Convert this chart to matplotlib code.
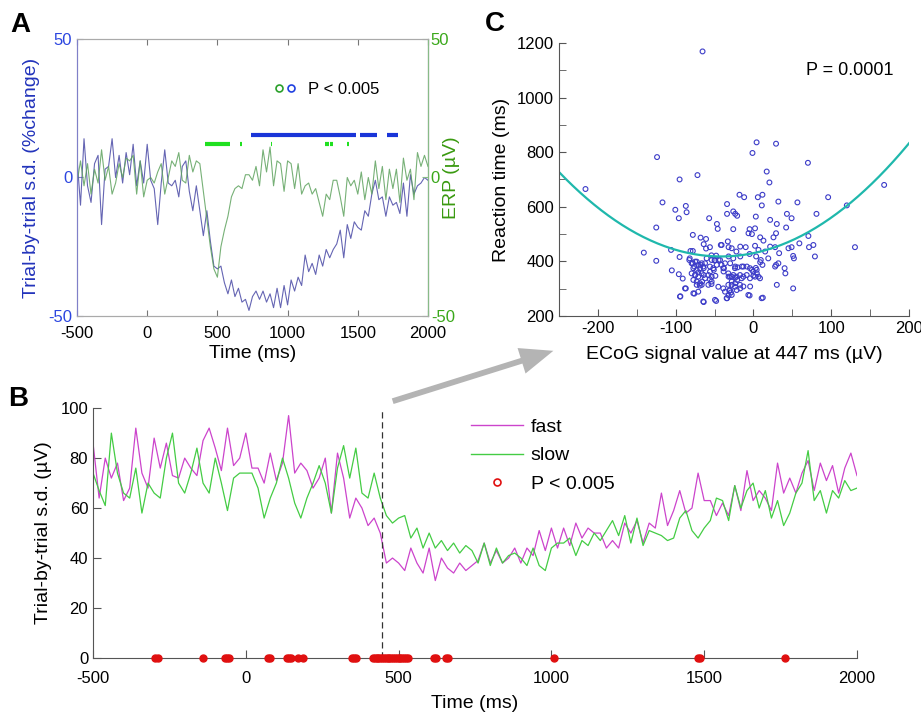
import matplotlib
matplotlib.use('Agg')
import matplotlib.pyplot as plt
from matplotlib.lines import Line2D
from matplotlib.legend_handler import HandlerTuple
import numpy as np

plt.rcParams['font.family'] = ['Liberation Sans', 'DejaVu Sans']
plt.rcParams['axes.unicode_minus'] = False

# ---------------- data ----------------
# Panel A: 25 ms samples from -500 to 2000 ms
t_a = np.arange(-500, 2001, 25)
sd_change = [7, -10, 14, -3, -9, 5, 8, -17, 3, 4,
             14, 0, 8, -2, 9, 1, 12, -3, 6, -2,
             12, -1, -4, -17, -2, 10, -2, -3, -1, -7,
             4, 6, -5, -12, -3, -12, -21, -12, -23, -32,
             -33, -32, -38, -42, -37, -43, -40, -45, -44, -48,
             -43, -41, -44, -41, -45, -42, -47, -40, -47, -39,
             -46, -37, -41, -36, -39, -28, -34, -31, -35, -28,
             -32, -26, -29, -26, -24, -19, -29, -17, -22, -16,
             -18, -19, -12, -14, -6, -1, -8, -7, -14, -7,
             -10, -9, -13, -2, -14, 1, -6, -3, -2, 0,
             -1]
erp = [-2, 6, -3, 5, -6, 3, -2, 10, -1, 4,
       -6, -2, 5, 0, 7, 6, 8, -6, 6, -7,
       -1, 0, -2, 2, 5, -6, 0, 6, 4, 9,
       -1, -2, 8, 2, 6, 5, -5, -15, -25, -33,
       -36, -25, -19, -14, -7, -4, -3, -4, 1, 1,
       -1, 4, -3, 10, 2, 11, -3, 6, 5, -5,
       6, 5, -4, 5, -6, -3, -2, -6, -4, -9,
       -14, -6, -8, -1, -1, -7, -14, 0, -3, -1,
       -6, 2, -8, 0, -6, 6, -4, 4, -8, 3,
       -4, 3, -9, 7, -1, 3, -8, 9, 4, 8,
       4]
# significant periods (ms)
sig_sd_a = [(737, 1487), (1516, 1634), (1706, 1789)]
sig_erp_a = [(412, 590), (664, 676), (880, 892), (1266, 1292), (1300, 1326), (1424, 1436)]

# Panel B: 20 ms samples
t_b = np.arange(-500, 2001, 20)
fast = [86, 64, 80, 72, 78, 63, 68, 92, 74, 68,
        88, 76, 86, 73, 72, 80, 76, 73, 87, 92,
        84, 75, 92, 77, 80, 90, 76, 76, 70, 82,
        71, 78, 97, 74, 78, 75, 68, 72, 80, 58,
        82, 72, 56, 64, 60, 53, 56, 50, 38, 40,
        38, 35, 44, 38, 34, 44, 31, 40, 36, 34,
        38, 35, 37, 39, 46, 38, 43, 38, 40, 44,
        38, 44, 41, 51, 43, 52, 44, 52, 45, 54,
        48, 52, 50, 50, 44, 47, 44, 54, 50, 55,
        46, 54, 52, 66, 53, 59, 67, 58, 60, 74,
        63, 63, 57, 62, 57, 69, 59, 75, 63, 67,
        64, 59, 78, 66, 72, 66, 74, 79, 67, 78,
        71, 77, 66, 76, 82, 73]
slow = [74, 67, 61, 90, 74, 66, 64, 76, 58, 70,
        66, 64, 80, 90, 70, 66, 74, 84, 70, 66,
        80, 70, 59, 72, 74, 74, 74, 68, 56, 64,
        70, 80, 72, 62, 56, 64, 70, 77, 70, 58,
        76, 85, 72, 84, 66, 64, 74, 64, 57, 54,
        56, 57, 48, 52, 44, 50, 44, 47, 43, 46,
        42, 45, 43, 38, 46, 37, 44, 38, 41, 42,
        40, 37, 44, 37, 35, 44, 46, 46, 48, 41,
        47, 45, 50, 47, 51, 55, 49, 57, 46, 56,
        45, 51, 50, 49, 47, 48, 56, 59, 51, 48,
        52, 55, 64, 63, 55, 69, 60, 67, 70, 60,
        67, 56, 63, 53, 58, 66, 70, 83, 63, 67,
        58, 67, 64, 71, 67, 68]
sig_times_b = [-296, -288, -140, -68, -62, -56, 74, 80, 136, 142, 148, 170, 188,
               348, 354, 360, 415, 422, 428, 434, 440, 446, 452, 458, 464, 470,
               476, 482, 488, 494, 500, 506, 512, 518, 524, 530, 616, 622, 656,
               662, 1008, 1480, 1487, 1766]
t_marker = 447

# Panel C: single trials
ecog = [-65.5, -216, -124, -72, -95, -117, -100.5, -87, -86, -96, -125, -141, -125, -106,
        -95, -105, -96, -91, -94, -87, -76, -64, -48, -78, -68, -61, -64, -61, -81, -78,
        -82, -78, -73, -76, -68, -64, -71, -75, -64, -73, -69, -66, -57, -47, -46, -56,
        -54, -48, -50, -56, -51, -49, -54, -56, -45, -41, -38.5, -38, -41, -34, -34, -26,
        -23.5, -21, -26, -33, -32, -42, -28, -22, -17, -32, -26, -30, -23.5, -20.5, -15,
        -8.5, -32, -28, -23.5, -21, -13, -13, -17, -23.5, -28, -31, -29, -32, -34, -18,
        -12, -17, -10, -6.4, -5, -2, 2, 3, 4, -1.3, 5.6, 11.5, 10.7, 17, 20.5, 29, 32,
        -5, 2, 3.4, 6.4, 8.6, 12.8, 15, 9.4, 8.6, 11.5, 3, 4.3, -2, 0, 6.4, -4.3, -5, 12,
        21.4, 25.7, 30, 29, 27.8, 21.4, 19, 27.8, 32, 29, 33, 30, 40, 41, 42, 43, 49, 45,
        49, 51, 52, 51, 56.5, 59, 70, 70.6, 71.4, 77, 81, 79, 96, 120, 130.5, 168,
        -82.5, -79.5, -75, -71, -66.6, -77.3, -73, -68.7, -64.5, -79.5, -75, -71, -66.6,
        -77.3, -73, -68.7, -62.3, -58, -53.8, -55.9, -51.6, -47.3, -53.8, -49.5, -43,
        -60.2, -62.3, -38.8, -36.6, -32.3, -30.2, -25.9, -21.6, -17.3, -23.8, -28, -32.3,
        -23.8, -17.3, -30.2, -36.6, -28, -21.6, -15.2, -8.7, -13, -4.5, -0.2, 4.1, 2,
        8.4, -4.5, -38.8, -45.2, -53.8, -58, -66.6, -71, -88, -94.5, -77.3, -64.5, -49.5,
        -34.5, -6.6, 10.5]
rt = [1169, 665, 782, 716, 700, 616, 589, 603, 580, 558, 524, 432, 402, 442,
      416, 367, 353, 337, 272, 301, 282, 251, 255, 497, 487, 482, 463, 447, 438, 438,
      411, 393, 399, 381, 387, 375, 359, 350, 350, 314, 311, 326, 558, 537, 519, 452,
      422, 421, 403, 381, 369, 347, 317, 334, 405, 387, 363, 375, 460, 610, 574, 583,
      574, 567, 518, 473, 452, 460, 448, 436, 454, 418, 411, 393, 381, 378, 381,
      381, 344, 344, 341, 332, 344, 308, 301, 320, 314, 293, 286, 275, 265, 644,
      635, 418, 452, 503, 518, 500, 521, 564, 836, 797, 635, 644, 605, 729, 689, 831, 619,
      427, 457, 418, 442, 488, 476, 436, 405, 397, 387, 376, 356, 369, 348, 344, 308, 275, 267,
      552, 488, 537, 503, 452, 454, 411, 381, 393, 387, 430, 314, 375, 356, 524, 574, 558, 448,
      452, 420, 411, 301, 616, 466, 761, 493, 452, 460, 574, 418, 635, 605, 452, 680,
      405, 393, 399, 387, 393, 375, 369, 375, 381, 356, 350, 344, 356,
      332, 326, 320, 338, 350, 344, 362, 375, 387, 405, 405, 405,
      411, 393, 375, 393, 356, 344, 350, 344, 350, 375, 326, 314,
      307, 314, 295, 289, 277, 295, 338, 350, 381, 375, 362, 369, 344,
      338, 338, 301, 307, 326, 314, 314, 289, 301, 271, 283, 253, 259,
      265, 277, 265]
fit_coef = [0.00711, 0.590, 430.2]   # quadratic fit RT vs ECoG

# ---------------- figure ----------------
fig = plt.figure(figsize=(9.21, 7.16), dpi=100)

tick_fs = 12
lab_fs = 14

# --- A ---
axA = fig.add_axes([0.0836, 0.5587, 0.3811, 0.3868])
axA2 = axA.twinx()
axA.plot(t_a, sd_change, color='#4a4aa6', lw=0.8, alpha=0.85, zorder=3)
axA2.plot(t_a, erp, color='#5fa35f', lw=0.8, alpha=0.85)
for s, e in sig_sd_a:
    axA.hlines(15.3, s, e, color='#1a35d8', lw=3)
for s, e in sig_erp_a:
    axA.hlines(12.2, s, e, color='#20e020', lw=3)
for a in (axA, axA2):
    a.set_xlim(-500, 2000)
    a.set_ylim(-50, 50)
    a.set_yticks([-50, 0, 50])
axA.set_xticks(np.arange(-500, 2001, 500))
axA.tick_params(direction='in', length=4, labelsize=tick_fs, top=True,
                colors='#777777')
axA.tick_params(axis='x', labelcolor='black', pad=7)
axA.tick_params(axis='y', labelcolor='#2c46e0', colors='#8080c8')
axA2.tick_params(direction='in', length=4, labelsize=tick_fs, colors='#88bb88',
                 labelcolor='#3aa81a', pad=2)
axA.spines['left'].set_color('#8080c8')
axA2.spines['left'].set_color('#8080c8')
axA2.spines['right'].set_color('#88bb88')
for a in (axA, axA2):
    a.spines['top'].set_color('#aaaaaa')
    a.spines['bottom'].set_color('#aaaaaa')
axA.set_xlabel('Time (ms)', fontsize=lab_fs, labelpad=3)
axA.set_ylabel('Trial-by-trial s.d. (%change)', fontsize=lab_fs, color='#2233bb', labelpad=6)
axA2.set_ylabel('ERP (µV)', fontsize=lab_fs, color='#3a9a10', labelpad=-8.5)
hg = Line2D([], [], ls='none', marker='o', mfc='none', mec='#2aa02a', ms=5, mew=1.2)
hb = Line2D([], [], ls='none', marker='o', mfc='none', mec='#2040e0', ms=5, mew=1.2)
axA.legend([(hg, hb)], ['P < 0.005'], handler_map={tuple: HandlerTuple(ndivide=None, pad=0.1)},
           loc='upper left', bbox_to_anchor=(0.54, 0.87), frameon=False, fontsize=12,
           handlelength=1.4, handletextpad=0.7, borderaxespad=0)

# --- C ---
axC = fig.add_axes([0.607, 0.5587, 0.380, 0.3813])
axC.scatter(ecog, rt, s=12, facecolors='none', edgecolors='#3c3cc8', linewidths=0.8)
xf = np.linspace(-250, 200, 200)
axC.plot(xf, np.polyval(fit_coef, xf), color='#1fb8ac', lw=1.6)
axC.set_xlim(-250, 200)
axC.set_ylim(200, 1200)
axC.set_xticks([-200, -100, 0, 100, 200])
axC.set_xticks([-150, -50, 50, 150], minor=True)
axC.set_yticks(np.arange(200, 1201, 200))
axC.set_yticks(np.arange(300, 1200, 200), minor=True)
axC.tick_params(which='both', direction='in', length=5, labelsize=tick_fs, colors='#555555',
                labelcolor='black')
for sp in ('top', 'right'):
    axC.spines[sp].set_visible(False)
for sp in ('left', 'bottom'):
    axC.spines[sp].set_color('#555555')
axC.set_xlabel('ECoG signal value at 447 ms (µV)', fontsize=lab_fs, labelpad=7)
axC.set_ylabel('Reaction time (ms)', fontsize=lab_fs, labelpad=5)
axC.text(0.83, 0.9, 'P = 0.0001', transform=axC.transAxes, fontsize=13, ha='center', va='center')

# --- B ---
axB = fig.add_axes([0.101, 0.081, 0.8295, 0.349])
axB.plot(t_b, fast, color='#cc44cc', lw=0.9, label='fast')
axB.plot(t_b, slow, color='#44cc44', lw=0.9, label='slow')
axB.plot([t_marker, t_marker], [0, 100], color='#333333', lw=0.9, ls=(0, (5, 3)))
axB.plot(sig_times_b, np.zeros(len(sig_times_b)), ls='none', marker='o', ms=5,
         color='#e01010', clip_on=False, zorder=5)
axB.set_xlim(-500, 2000)
axB.set_ylim(0, 100)
axB.set_xticks(np.arange(-500, 2001, 500))
axB.set_yticks(np.arange(0, 101, 20))
axB.tick_params(direction='in', length=6, labelsize=tick_fs, colors='#555555', labelcolor='black')
axB.tick_params(axis='x', pad=9)
for sp in ('top', 'right'):
    axB.spines[sp].set_visible(False)
for sp in ('left', 'bottom'):
    axB.spines[sp].set_color('#555555')
axB.set_xlabel('Time (ms)', fontsize=lab_fs, labelpad=7)
axB.set_ylabel('Trial-by-trial s.d. (µV)', fontsize=lab_fs, labelpad=6)
hf = Line2D([], [], color='#cc44cc', lw=1)
hs = Line2D([], [], color='#44cc44', lw=1)
hp = Line2D([], [], ls='none', marker='o', mfc='none', mec='#e01010', ms=5, mew=1.2)
axB.legend([hf, hs, hp], ['fast', 'slow', 'P < 0.005'], loc='upper left',
           bbox_to_anchor=(0.484, 0.99), frameon=False, fontsize=14, handlelength=2.7,
           handletextpad=0.4, labelspacing=0.55, borderaxespad=0)

# arrow from B marker to C
fig.add_artist(matplotlib.patches.FancyArrowPatch(
    (0.4235, 0.4385), (0.6037, 0.5112), transform=fig.transFigure,
    arrowstyle='simple, head_width=1.6, head_length=2.0, tail_width=0.35',
    mutation_scale=12, color='#b4b4b4', lw=0))

# panel letters
fig.text(0.011, 0.965, 'A', fontsize=20, fontweight='bold', va='center')
fig.text(0.009, 0.443, 'B', fontsize=20, fontweight='bold', va='center')
fig.text(0.527, 0.967, 'C', fontsize=20, fontweight='bold', va='center')

fig.savefig('out.png', dpi=100)
